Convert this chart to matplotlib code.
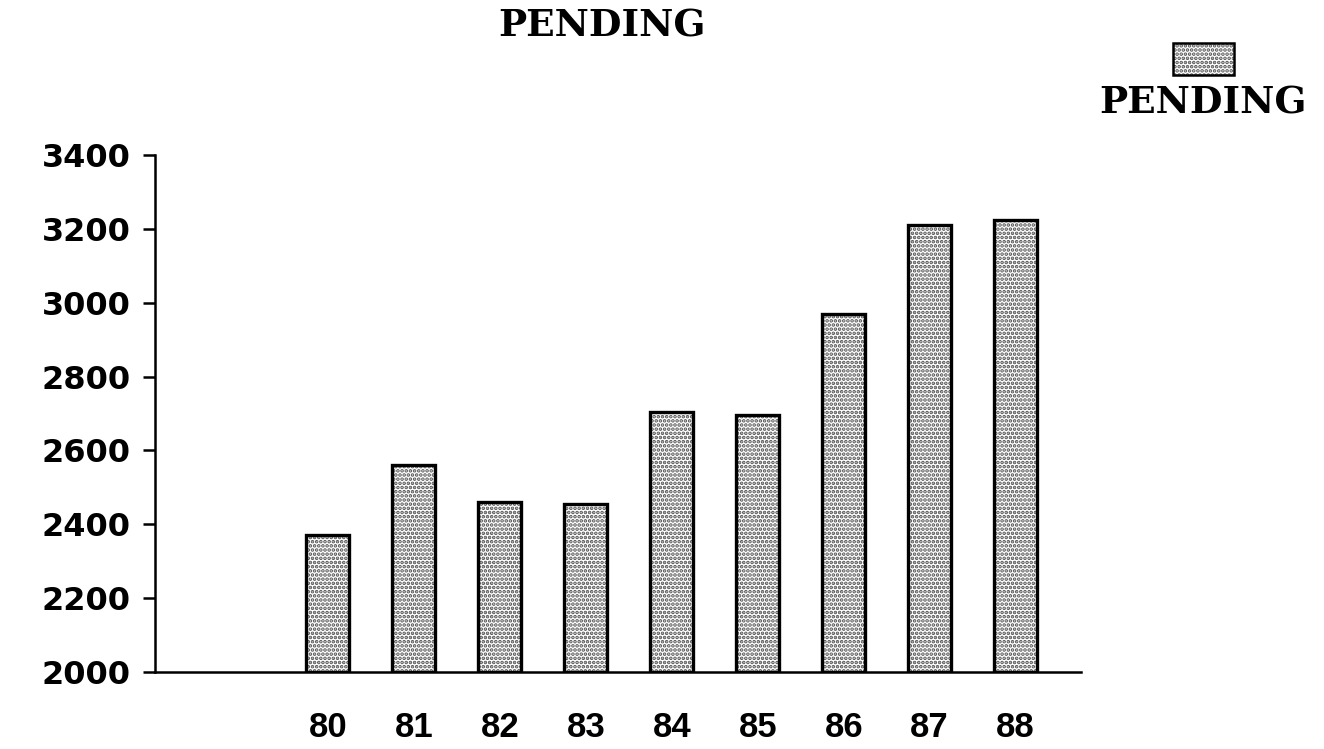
import matplotlib
matplotlib.use("Agg")
import matplotlib.pyplot as plt
from matplotlib.patches import Rectangle

# Pending cases by year
years = ["80", "81", "82", "83", "84", "85", "86", "87", "88"]
pending = [2370, 2560, 2460, 2455, 2705, 2695, 2970, 3210, 3225]
y_ticks = [2000, 2200, 2400, 2600, 2800, 3000, 3200, 3400]
title = "PENDING"
series_name = "PENDING"

W, H = 1324, 749
fig = plt.figure(figsize=(W / 100, H / 100), dpi=100)
fig.patch.set_facecolor("white")
ax = fig.add_axes([155 / W, 1 - 672 / H, (1081 - 155) / W, (672 - 155) / H])

plt.rcParams["hatch.linewidth"] = 1.8
x = list(range(len(years)))
# dotted fill, then the outline on top
ax.bar(x, [v - 2000 for v in pending], bottom=2000, width=0.5,
       facecolor="white", edgecolor="#505050", hatch="....", linewidth=0)
ax.bar(x, [v - 2000 for v in pending], bottom=2000, width=0.5,
       fill=False, edgecolor="black", linewidth=2.4)

ax.set_xlim(-2.01, 8.76)
ax.set_ylim(2000, 3400)
ax.set_yticks(y_ticks)
ax.set_yticklabels([str(t) for t in y_ticks],
                   fontfamily="DejaVu Sans", fontweight="bold", fontsize=23)
ax.set_xticks(x)
ax.set_xticklabels(years, fontfamily="Liberation Sans",
                   fontweight="bold", fontsize=25)
ax.tick_params(axis="y", direction="out", length=8.6, width=1.8, pad=9, color="black")
ax.tick_params(axis="x", length=0, pad=28)

for side in ("top", "right"):
    ax.spines[side].set_visible(False)
for side in ("left", "bottom"):
    ax.spines[side].set_linewidth(1.8)
    ax.spines[side].set_color("black")

fig.text(602 / W, 1 - 26 / H, title, ha="center", va="center",
         fontfamily="DejaVu Serif", fontweight="bold", fontsize=27)

# legend: swatch with the series name below it
fig.patches.append(Rectangle((1173 / W, 1 - 75 / H), 61 / W, 32 / H,
                             transform=fig.transFigure, facecolor="white",
                             edgecolor="#505050", hatch="....", linewidth=0))
fig.patches.append(Rectangle((1173 / W, 1 - 75 / H), 61 / W, 32 / H,
                             transform=fig.transFigure, fill=False,
                             edgecolor="black", linewidth=1.8))
fig.text(1203 / W, 1 - 103 / H, series_name, ha="center", va="center",
         fontfamily="DejaVu Serif", fontweight="bold", fontsize=27)

fig.savefig("out.png", dpi=100, facecolor="white")
